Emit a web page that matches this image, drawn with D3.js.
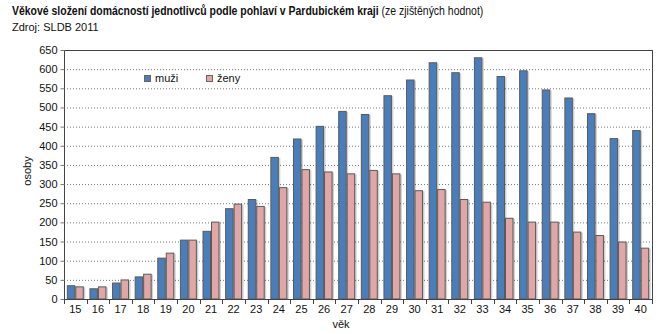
<!DOCTYPE html>
<html><head><meta charset="utf-8">
<script src="https://cdn.jsdelivr.net/npm/d3@7"></script>
<style>body{margin:0;background:#fff;} text{font-family:"Liberation Sans",Arial,sans-serif;}</style>
</head><body><svg id="c" width="666" height="334"></svg>
<script>
const ages = ["15","16","17","18","19","20","21","22","23","24","25","26","27","28","29","30","31","32","33","34","35","36","37","38","39","40"];
const muzi = [36,28,43,59,108,155,178,237,261,371,419,452,491,483,532,573,618,592,631,582,597,547,526,485,420,441];
const zeny = [33,33,51,66,121,155,202,249,243,292,339,333,328,337,328,284,287,261,254,212,202,202,176,167,150,134];
const yTicks = d3.range(0, 651, 50);
const seriesNames = ["muži","ženy"];
const colors = ["#4a7ebb","#e0a7a6"];

const svg = d3.select("#c");
const L = 64, R = 652, T = 50, B = 299;
const x = d3.scaleBand().domain(ages).range([L, R]).paddingInner(0.25).paddingOuter(0.125);
const x0 = d3.scaleBand().domain(ages).range([L, R]);
const xs = d3.scaleBand().domain([0,1]).range([0, x.bandwidth()]);
const y = d3.scaleLinear().domain([0, 650]).range([B, T]);

// grid
svg.append("g").selectAll("line").data(yTicks.filter(d=>d>0)).join("line")
  .attr("x1", L).attr("x2", R).attr("y1", d=>y(d)+0.5).attr("y2", d=>y(d)+0.5)
  .attr("stroke", "#777").attr("stroke-dasharray", "1,2").attr("stroke-width", 1);

// bars with shadow
const series = [muzi, zeny];
series.forEach((vals, si) => {
  const g = svg.append("g");
  g.selectAll("rect.sh").data(vals).join("rect")
    .attr("x", (d,i)=> x(ages[i]) + xs(si) + 1.5)
    .attr("y", d=> y(d) + 1)
    .attr("width", xs.bandwidth())
    .attr("height", d=> B - y(d) - 1)
    .attr("fill", "#000").attr("opacity", 0.18);
  g.selectAll("rect.b").data(vals).join("rect")
    .attr("x", (d,i)=> x(ages[i]) + xs(si) + 0.5)
    .attr("y", d=> y(d) + 0.5)
    .attr("width", xs.bandwidth() - 1)
    .attr("height", d=> B - y(d) - 0.5)
    .attr("fill", colors[si]).attr("stroke", "#5a5a5a").attr("stroke-width", 1);
});

// plot border top/right
svg.append("line").attr("x1", L).attr("x2", R+0.5).attr("y1", T+0.5).attr("y2", T+0.5).attr("stroke", "#444");
svg.append("line").attr("x1", R+0.5).attr("x2", R+0.5).attr("y1", T).attr("y2", B).attr("stroke", "#444");

// y axis
const ya = svg.append("g").attr("transform", `translate(${L+0.5},0)`)
  .call(d3.axisLeft(y).tickValues(yTicks).tickSize(4).tickPadding(3));
ya.select(".domain").attr("stroke", "#444").attr("d", `M0,${T}V${B+0.5}`);
ya.selectAll(".tick line").attr("stroke", "#777");
ya.selectAll("text").attr("font-size", 11).attr("fill", "#111").attr("font-family", "Liberation Sans, Arial, sans-serif");

// x axis
const xa = svg.append("g").attr("transform", `translate(0,${B+0.5})`)
  .call(d3.axisBottom(x0).tickSize(0).tickPadding(6));
xa.select(".domain").attr("stroke", "#444").attr("d", `M${L},0H${R+1}`);
xa.selectAll("text").attr("font-size", 11).attr("fill", "#111").attr("font-family", "Liberation Sans, Arial, sans-serif");
svg.append("g").selectAll("line").data(d3.range(ages.length+1)).join("line")
  .attr("x1", i => Math.round(L + i*x0.step())+0.5).attr("x2", i => Math.round(L + i*x0.step())+0.5)
  .attr("y1", B).attr("y2", B+5).attr("stroke", "#444");

// axis titles
svg.append("text").attr("transform", "translate(31,171) rotate(-90)").attr("text-anchor","middle")
  .attr("font-size", 11).attr("fill","#111").text("osoby");
svg.append("text").attr("x", 341).attr("y", 328).attr("text-anchor","middle")
  .attr("font-size", 11).attr("fill","#111").text("věk");

// legend
const lx = [144, 206];
seriesNames.forEach((n,i)=>{
  svg.append("rect").attr("x", lx[i]+0.5).attr("y", 75.5).attr("width", 6).attr("height", 6)
    .attr("fill", colors[i]).attr("stroke", "#666");
  svg.append("text").attr("x", lx[i]+11).attr("y", 82).attr("font-size", 11).attr("fill","#111").text(n);
});

// title (single text, horizontally condensed to match reference width)
const tg = svg.append("g").attr("transform", "translate(12,15) scale(0.872,1)");
const t = tg.append("text").attr("x", 0).attr("y", 0).attr("font-size", 12).attr("fill","#111");
t.append("tspan").attr("font-weight","bold").text("Věkové složení domácností jednotlivců podle pohlaví v Pardubickém kraji");
t.append("tspan").text(" (ze zjištěných hodnot)");
svg.append("text").attr("x", 12).attr("y", 31).attr("font-size", 11).attr("fill","#111").text("Zdroj: SLDB 2011");
</script></body></html>
